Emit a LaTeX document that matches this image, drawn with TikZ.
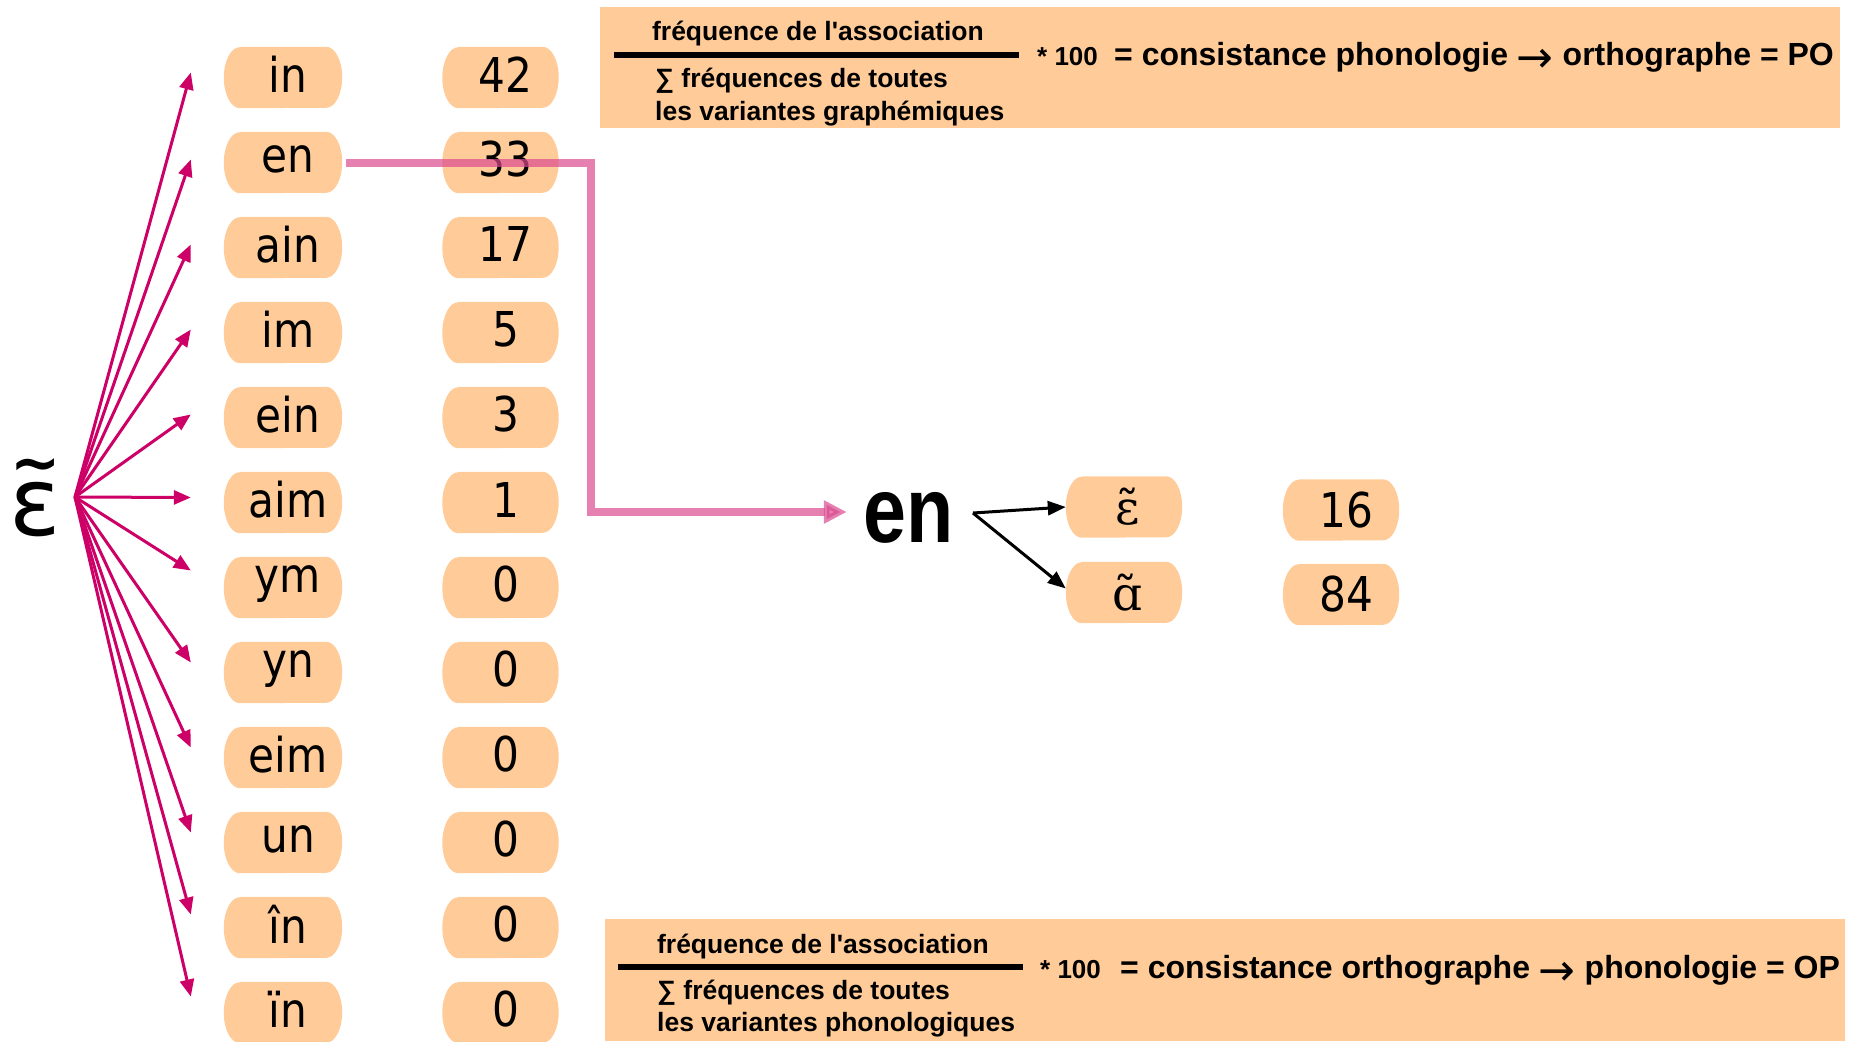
\documentclass[tikz,border=0pt]{standalone}
\usepackage{fontspec}
\usetikzlibrary{arrows.meta,backgrounds,calc}
\newfontfamily\boxfont[FakeStretch=0.88]{DejaVu Sans}
\newfontfamily\bigfont{DejaVu Sans}
\newfontfamily\ipafont{DejaVu Serif}
\newfontfamily\formfont[Ligatures=TeXOff]{Liberation Sans}
\newfontfamily\enfont[FakeStretch=0.83]{Liberation Sans}
\newfontfamily\arrfont{DejaVu Sans}
\definecolor{boxorange}{RGB}{255,204,153}
\definecolor{arrowmag}{RGB}{204,0,102}
\definecolor{linkpink}{RGB}{218,74,142}
\newcommand\longarr{\raisebox{-7pt}{\arrfont\mdseries\fontsize{44}{44}\selectfont →}}
\tikzset{
  pill/.style={rectangle, inner sep=0pt, minimum width=118pt, minimum height=61pt},
  numpill/.style={pill, minimum width=116pt},
  pilltext/.style={inner sep=0pt, xshift=5pt, yshift=3pt, font=\boxfont\fontsize{48}{50}\selectfont},
  ipatext/.style={inner sep=0pt, xshift=4pt, font=\ipafont\fontsize{47}{50}\selectfont},
  righttext/.style={inner sep=0pt, xshift=5pt, font=\boxfont\fontsize{48}{50}\selectfont},
  fanarrow/.style={draw=arrowmag, line width=3pt, -{Triangle[length=17pt,width=14pt]}},
  linkarrow/.style={draw=linkpink, opacity=0.7, line width=8pt, -{Triangle[length=23pt,width=22pt]}},
  blackarrow/.style={draw=black, line width=3pt, -{Triangle[length=18pt,width=14pt]}},
  formbox/.style={fill=boxorange, inner sep=0pt, minimum width=1240pt, anchor=north west},
  ftext/.style={inner sep=0pt, font=\formfont\bfseries\fontsize{26.5}{28}\selectfont},
  fmul/.style={inner sep=0pt, font=\formfont\bfseries\fontsize{26}{28}\selectfont},
  fres/.style={inner sep=0pt, font=\formfont\bfseries\fontsize{32}{34}\selectfont},
  fracline/.style={line width=6pt, black}
}
\begin{document}
\begin{tikzpicture}[x=1pt,y=-1pt]
\useasboundingbox (0,0) rectangle (1854,1041);
% formula boxes
\node[formbox, minimum height=121pt] (topbox) at (600,7) {};
\node[formbox, minimum height=122pt] (botbox) at (605,919) {};
% top formula
\draw[fracline] (614,55.5) -- (1019,55.5);
\node[ftext, anchor=base] (tnum) at (818,41) {fréquence de l'association};
\node[ftext, anchor=base west] (tden1) at (655,88) {∑ fréquences de toutes};
\node[ftext, anchor=base west] (tden2) at (655,120) {les variantes graphémiques};
\node[fmul, anchor=base west] (tmul) at (1037,66) {* 100};
\node[fres, anchor=base west] (tres) at (1114,66) {= consistance phonologie \longarr{} orthographe = PO};
% bottom formula
\draw[fracline] (618,967) -- (1023,967);
\node[ftext, anchor=base] (bnum) at (823,953) {fréquence de l'association};
\node[ftext, anchor=base west] (bden1) at (657,999) {∑ fréquences de toutes};
\node[ftext, anchor=base west] (bden2) at (657,1031) {les variantes phonologiques};
\node[fmul, anchor=base west] (bmul) at (1040,978.5) {* 100};
\node[fres, anchor=base west] (bres) at (1120,978.5) {= consistance orthographe \longarr{} phonologie = OP};
% left columns
\foreach \t [count=\i from 0] in {in,en,ain,im,ein,aim,ym,yn,eim,un,în,ïn}
  \node[pill, label={[pilltext]center:\t}] (g\i) at (283,77.5+85*\i) {};
\foreach \t [count=\i from 0] in {42,33,17,5,3,1,0,0,0,0,0,0}
  \node[numpill, label={[pilltext]center:\t}] (n\i) at (500.5,77.5+85*\i) {};
% big epsilon with tilde
\node[font=\bigfont\fontsize{95}{95}\selectfont, anchor=base, inner sep=0pt] (eps) at (35.5,535) {ɛ};
\node[font=\bigfont\bfseries\fontsize{60}{60}\selectfont, anchor=center, inner sep=0pt] (epstilde) at (35.5,471) {\char"7E};
\coordinate (o) at (75,497);
\foreach \dy [count=\i from 0] in {-5,-3,-3,-3,-3,-5,-17,-10,-10,-10,-13,-16}
  \draw[fanarrow] (o) -- ($(g\i.west)+(-33,\dy)$);
% right part
\node[anchor=base, inner sep=0pt, font=\enfont\bfseries\fontsize{93}{93}\selectfont] (enbig) at (909,542) {en};
\node[numpill, label={[ipatext]center:ɛ̃}] (p0) at (1124,507) {};
\node[numpill, label={[ipatext]center:ɑ̃}] (p1) at (1124,592.5) {};
\node[numpill, label={[righttext]center:16}] (q0) at (1341,510) {};
\node[numpill, label={[righttext]center:84}] (q1) at (1341,594.5) {};
\coordinate (bs) at (973,513);
\draw[blackarrow] (bs) -- (p0.west);
\draw[blackarrow] (bs) -- ([yshift=4pt]p1.west);
% pink link
\coordinate (pc) at (591,512);
\coordinate (pe) at (pc -| enbig.west);
\draw[linkarrow] ([xshift=4pt]g1.east) -| (pc) -- ([xshift=-17pt]pe);
% pill backgrounds
\begin{pgfonlayer}{background}
\foreach \n in {g0,g1,g2,g3,g4,g5,g6,g7,g8,g9,g10,g11,n0,n1,n2,n3,n4,n5,n6,n7,n8,n9,n10,n11,p0,p1,q0,q1}
  \fill[boxorange] ([xshift=16pt]\n.north west) -- ([xshift=-16pt]\n.north east)
    arc[start angle=90,end angle=-90,x radius=16pt,y radius=30.5pt]
    -- ([xshift=16pt]\n.south west)
    arc[start angle=270,end angle=90,x radius=16pt,y radius=30.5pt] -- cycle;
\end{pgfonlayer}
\end{tikzpicture}
\end{document}
